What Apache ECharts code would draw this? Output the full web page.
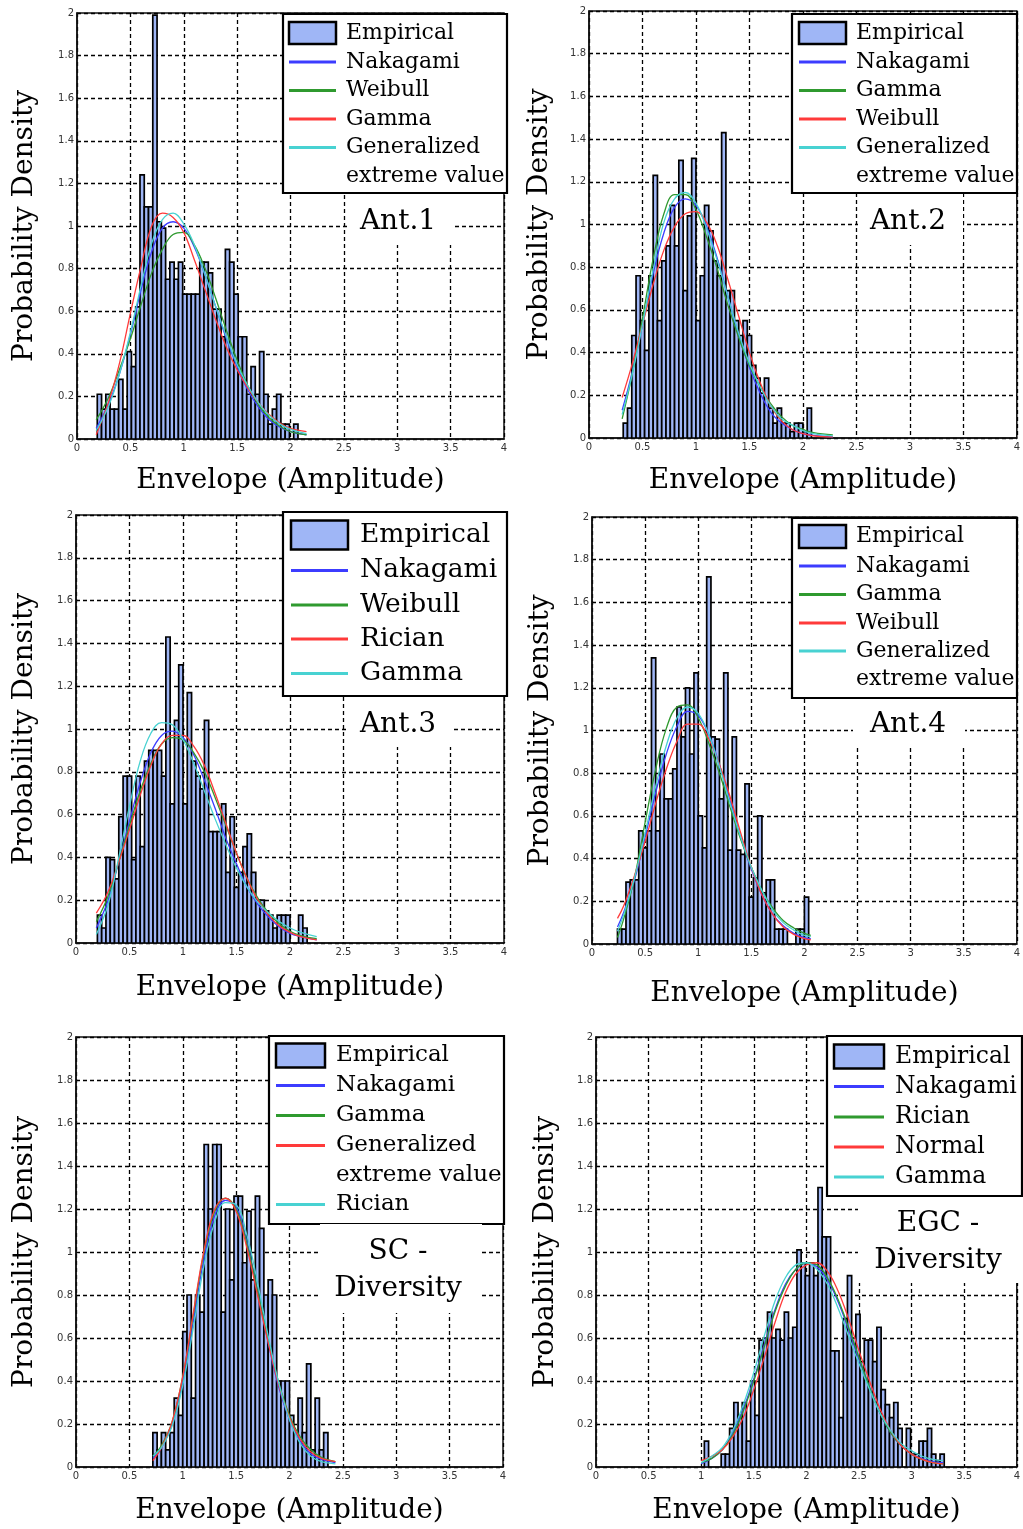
<!DOCTYPE html>
<html>
<head>
<meta charset="utf-8">
<script src="https://cdn.jsdelivr.net/npm/echarts@6/dist/echarts.min.js"></script>
<style>
  html, body { margin: 0; padding: 0; background: #fff; }
  #main { width: 1023px; height: 1529px; }
</style>
</head>
<body>
<div id="main"></div>
<script>
// ---------------------------------------------------------------
// Envelope amplitude histograms (probability density) with fitted PDFs
// ---------------------------------------------------------------
const BIN_WIDTH = 0.04;

// ---- Ant.1 ----
const ant1Start = 0.19;
const ant1Hist = [0.21, 0.14, 0.21, 0.14, 0.14, 0.28, 0.14, 0.41, 0.34, 0.62, 1.24, 1.09, 1.09, 1.99, 1.02, 0.99,
  0.75, 0.83, 0.75, 0.83, 0.68, 0.68, 0.68, 0.68, 0.83, 0.83, 0.78, 0.61, 0.61, 0.48, 0.89, 0.83, 0.68, 0.48,
  0.48, 0.21, 0.34, 0.21, 0.41, 0.21, 0.07, 0.14, 0.21, 0.07, 0.07, 0, 0.07];
const ant1CurveX = [0.18, 0.3, 0.4, 0.5, 0.6, 0.7, 0.8, 0.9, 1.0, 1.1, 1.2, 1.3, 1.4, 1.5, 1.6, 1.7, 1.8, 1.9, 2.0, 2.15];
const ant1Nakagami = [0.05, 0.17, 0.31, 0.49, 0.70, 0.88, 0.99, 1.02, 0.99, 0.90, 0.77, 0.62, 0.47, 0.34, 0.23, 0.15, 0.09, 0.055, 0.035, 0.02];
const ant1Weibull = [0.09, 0.20, 0.33, 0.47, 0.63, 0.78, 0.89, 0.96, 0.97, 0.91, 0.80, 0.66, 0.51, 0.37, 0.25, 0.16, 0.10, 0.06, 0.035, 0.02];
const ant1Gamma = [0.02, 0.18, 0.36, 0.59, 0.81, 1.00, 1.06, 1.04, 0.97, 0.84, 0.70, 0.56, 0.43, 0.325, 0.24, 0.17, 0.115, 0.075, 0.05, 0.035];
const ant1Gev = [0.04, 0.16, 0.31, 0.50, 0.72, 0.92, 1.03, 1.06, 1.01, 0.91, 0.77, 0.62, 0.48, 0.35, 0.25, 0.17, 0.11, 0.07, 0.045, 0.025];
const ant1Legend = ['Empirical', 'Nakagami', 'Weibull', 'Gamma', 'Generalized\nextreme value'];

// ---- Ant.2 ----
const ant2Start = 0.32;
const ant2Hist = [0.07, 0.14, 0.48, 0.76, 0.55, 0.41, 0.76, 1.23, 0.55, 0.83, 0.90, 1.09, 0.90, 1.30, 0.69, 1.04,
  1.31, 0.55, 0.76, 1.09, 0.97, 0.83, 0.76, 1.43, 0.69, 0.69, 0.55, 0.48, 0.55, 0.48, 0.34, 0.28, 0.21, 0.28,
  0.14, 0.07, 0.14, 0.07, 0.07, 0.03, 0.07, 0.07, 0.03, 0.14];
const ant2CurveX = [0.31, 0.4, 0.5, 0.6, 0.7, 0.8, 0.9, 1.0, 1.1, 1.2, 1.3, 1.4, 1.5, 1.6, 1.7, 1.8, 1.9, 2.0, 2.1, 2.28];
const ant2Nakagami = [0.13, 0.30, 0.53, 0.77, 0.96, 1.08, 1.12, 1.09, 0.99, 0.84, 0.66, 0.48, 0.33, 0.21, 0.12, 0.07, 0.04, 0.02, 0.012, 0.005];
const ant2Gamma = [0.09, 0.29, 0.56, 0.84, 1.05, 1.14, 1.14, 1.07, 0.94, 0.79, 0.62, 0.47, 0.34, 0.24, 0.16, 0.10, 0.06, 0.04, 0.025, 0.015];
const ant2Weibull = [0.19, 0.34, 0.53, 0.72, 0.88, 0.99, 1.05, 1.06, 1.01, 0.90, 0.74, 0.57, 0.40, 0.26, 0.15, 0.08, 0.04, 0.02, 0.01, 0.005];
const ant2Gev = [0.11, 0.29, 0.53, 0.79, 1.01, 1.12, 1.15, 1.10, 0.98, 0.83, 0.66, 0.49, 0.35, 0.24, 0.15, 0.09, 0.06, 0.035, 0.02, 0.01];
const ant2Legend = ['Empirical', 'Nakagami', 'Gamma', 'Weibull', 'Generalized\nextreme value'];

// ---- Ant.3 ----
const ant3Start = 0.20;
const ant3Hist = [0.13, 0.07, 0.40, 0.39, 0.30, 0.59, 0.78, 0.78, 0.39, 0.78, 0.45, 0.85, 0.90, 0.90, 0.90, 0.78,
  1.43, 0.65, 1.04, 1.30, 0.65, 1.17, 0.85, 0.78, 0.72, 1.04, 0.52, 0.52, 0.52, 0.65, 0.33, 0.59, 0.26, 0.33,
  0.45, 0.51, 0.33, 0.20, 0.20, 0.15, 0.13, 0.07, 0.13, 0.13, 0.13, 0, 0, 0.13, 0.07];
const ant3CurveX = [0.19, 0.3, 0.4, 0.5, 0.6, 0.7, 0.8, 0.9, 1.0, 1.1, 1.2, 1.3, 1.4, 1.5, 1.6, 1.7, 1.8, 1.9, 2.0, 2.1, 2.25];
const ant3Nakagami = [0.07, 0.20, 0.38, 0.57, 0.75, 0.89, 0.97, 0.99, 0.96, 0.88, 0.76, 0.63, 0.49, 0.37, 0.26, 0.18, 0.12, 0.075, 0.045, 0.03, 0.015];
const ant3Weibull = [0.10, 0.22, 0.38, 0.55, 0.71, 0.84, 0.93, 0.96, 0.95, 0.89, 0.80, 0.68, 0.55, 0.42, 0.30, 0.21, 0.14, 0.09, 0.055, 0.035, 0.02];
const ant3Rician = [0.14, 0.24, 0.38, 0.53, 0.69, 0.83, 0.93, 0.97, 0.97, 0.92, 0.83, 0.70, 0.56, 0.42, 0.30, 0.20, 0.13, 0.08, 0.05, 0.03, 0.015];
const ant3Gamma = [0.04, 0.18, 0.40, 0.64, 0.85, 0.98, 1.03, 1.02, 0.95, 0.84, 0.71, 0.58, 0.46, 0.35, 0.26, 0.19, 0.14, 0.10, 0.07, 0.05, 0.03];
const ant3Legend = ['Empirical', 'Nakagami', 'Weibull', 'Rician', 'Gamma'];

// ---- Ant.4 ----
const ant4Start = 0.24;
const ant4Hist = [0.07, 0.07, 0.29, 0.30, 0.30, 0.53, 0.45, 0.53, 1.34, 0.53, 0.89, 0.68, 0.68, 0.82, 1.11, 0.97,
  1.20, 0.89, 1.27, 0.60, 0.45, 1.72, 0.97, 0.96, 0.68, 1.27, 0.44, 0.97, 0.44, 0.42, 0.75, 0.22, 0.31, 0.60,
  0.24, 0.30, 0.30, 0.07, 0.07, 0.07, 0, 0, 0.07, 0.07, 0.22];
const ant4CurveX = [0.24, 0.3, 0.4, 0.5, 0.6, 0.7, 0.8, 0.9, 1.0, 1.1, 1.2, 1.3, 1.4, 1.5, 1.6, 1.7, 1.8, 1.9, 2.0, 2.06];
const ant4Nakagami = [0.08, 0.15, 0.30, 0.50, 0.71, 0.89, 1.02, 1.09, 1.07, 0.98, 0.84, 0.67, 0.50, 0.35, 0.23, 0.14, 0.085, 0.05, 0.03, 0.025];
const ant4Gamma = [0.03, 0.12, 0.31, 0.57, 0.82, 1.01, 1.11, 1.12, 1.06, 0.94, 0.80, 0.64, 0.49, 0.36, 0.25, 0.17, 0.11, 0.075, 0.05, 0.04];
const ant4Weibull = [0.12, 0.18, 0.32, 0.48, 0.66, 0.82, 0.95, 1.03, 1.03, 0.96, 0.84, 0.69, 0.52, 0.36, 0.23, 0.14, 0.08, 0.045, 0.025, 0.02];
const ant4Gev = [0.06, 0.14, 0.31, 0.52, 0.74, 0.93, 1.06, 1.11, 1.08, 0.98, 0.83, 0.66, 0.50, 0.36, 0.25, 0.16, 0.10, 0.065, 0.04, 0.035];
const ant4Legend = ['Empirical', 'Nakagami', 'Gamma', 'Weibull', 'Generalized\nextreme value'];

// ---- SC - Diversity ----
const scStart = 0.72;
const scHist = [0.16, 0.08, 0.16, 0.08, 0.16, 0.32, 0.24, 0.63, 0.80, 0.32, 0.80, 0.72, 1.50, 1.20, 1.50, 1.50,
  0.72, 1.20, 0.87, 1.26, 1.26, 0.95, 1.19, 0.87, 1.26, 1.11, 0.80, 0.87, 0.80, 0.40, 0.40, 0.40, 0.24, 0.16,
  0.32, 0.16, 0.48, 0.08, 0.32, 0.08, 0.16];
const scCurveX = [0.72, 0.8, 0.9, 1.0, 1.1, 1.2, 1.3, 1.4, 1.5, 1.6, 1.7, 1.8, 1.9, 2.0, 2.1, 2.2, 2.3, 2.43];
const scNakagami = [0.04, 0.09, 0.20, 0.40, 0.68, 0.97, 1.17, 1.24, 1.21, 1.05, 0.82, 0.58, 0.37, 0.22, 0.12, 0.06, 0.035, 0.02];
const scGamma = [0.05, 0.10, 0.21, 0.42, 0.71, 1.00, 1.19, 1.25, 1.20, 1.04, 0.82, 0.59, 0.39, 0.24, 0.14, 0.08, 0.045, 0.025];
const scGev = [0.03, 0.09, 0.21, 0.42, 0.72, 1.01, 1.20, 1.25, 1.19, 1.02, 0.80, 0.58, 0.38, 0.23, 0.13, 0.07, 0.04, 0.025];
const scRician = [0.05, 0.09, 0.19, 0.38, 0.65, 0.94, 1.14, 1.23, 1.22, 1.08, 0.86, 0.61, 0.39, 0.22, 0.11, 0.05, 0.025, 0.015];
const scLegend = ['Empirical', 'Nakagami', 'Gamma', 'Generalized\nextreme value', 'Rician'];

// ---- EGC - Diversity ----
const egcStart = 1.03;
const egcHist = [0.12, 0, 0, 0, 0.06, 0.06, 0.18, 0.30, 0.24, 0.30, 0.12, 0.40, 0.24, 0.59, 0.60, 0.72, 0.60,
  0.64, 0.59, 0.72, 0.60, 0.65, 1.01, 0.95, 0.89, 0.95, 0.89, 1.30, 1.07, 1.07, 0.54, 0.54, 0.23, 0.69, 0.89,
  0.60, 0.71, 0.49, 0.59, 0.59, 0.49, 0.65, 0.36, 0.29, 0.23, 0.30, 0.18, 0, 0.18, 0.06, 0.06, 0.12, 0.12,
  0.18, 0.06, 0.03, 0.06];
const egcCurveX = [1.0, 1.1, 1.2, 1.3, 1.4, 1.5, 1.6, 1.7, 1.8, 1.9, 2.0, 2.1, 2.2, 2.3, 2.4, 2.5, 2.6, 2.7, 2.8, 2.9, 3.0, 3.1, 3.2, 3.3];
const egcNakagami = [0.015, 0.04, 0.08, 0.16, 0.27, 0.41, 0.57, 0.73, 0.85, 0.92, 0.95, 0.93, 0.87, 0.77, 0.64, 0.50, 0.37, 0.25, 0.16, 0.10, 0.06, 0.04, 0.025, 0.02];
const egcRician = [0.02, 0.04, 0.08, 0.15, 0.26, 0.40, 0.56, 0.72, 0.84, 0.92, 0.95, 0.94, 0.88, 0.78, 0.65, 0.51, 0.37, 0.25, 0.16, 0.10, 0.06, 0.035, 0.02, 0.015];
const egcNormal = [0.03, 0.05, 0.08, 0.14, 0.23, 0.36, 0.51, 0.67, 0.81, 0.90, 0.94, 0.95, 0.91, 0.82, 0.69, 0.54, 0.40, 0.27, 0.17, 0.10, 0.06, 0.035, 0.02, 0.015];
const egcGamma = [0.02, 0.05, 0.09, 0.17, 0.29, 0.44, 0.61, 0.77, 0.88, 0.94, 0.95, 0.92, 0.85, 0.74, 0.61, 0.48, 0.36, 0.25, 0.17, 0.11, 0.075, 0.05, 0.035, 0.03];
const egcLegend = ['Empirical', 'Nakagami', 'Rician', 'Normal', 'Gamma'];

// ---------------------------------------------------------------
// Styling
// ---------------------------------------------------------------
const SERIF = '"DejaVu Serif", serif';
const SANS = '"DejaVu Sans", sans-serif';
const BAR_FILL = '#9fb6f6';
const FIT_COLORS = ['#3c3cff', '#2f9a2f', '#ff3a3a', '#48d2d2'];

const panels = [
  { start: ant1Start, hist: ant1Hist, cx: ant1CurveX, fits: [ant1Nakagami, ant1Weibull, ant1Gamma, ant1Gev], names: ant1Legend, tag: 'Ant.1' },
  { start: ant2Start, hist: ant2Hist, cx: ant2CurveX, fits: [ant2Nakagami, ant2Gamma, ant2Weibull, ant2Gev], names: ant2Legend, tag: 'Ant.2' },
  { start: ant3Start, hist: ant3Hist, cx: ant3CurveX, fits: [ant3Nakagami, ant3Weibull, ant3Rician, ant3Gamma], names: ant3Legend, tag: 'Ant.3' },
  { start: ant4Start, hist: ant4Hist, cx: ant4CurveX, fits: [ant4Nakagami, ant4Gamma, ant4Weibull, ant4Gev], names: ant4Legend, tag: 'Ant.4' },
  { start: scStart, hist: scHist, cx: scCurveX, fits: [scNakagami, scGamma, scGev, scRician], names: scLegend, tag: 'SC -\nDiversity' },
  { start: egcStart, hist: egcHist, cx: egcCurveX, fits: [egcNakagami, egcRician, egcNormal, egcGamma], names: egcLegend, tag: 'EGC -\nDiversity' }
];

// Plot placement, legend boxes and panel tags
const layouts = [
  { grid: { left: 77, top: 13, width: 427, height: 426 }, yGap: 38, xGap: 28,
    legend: { x: 283, y: 14, w: 224, h: 179, swX: 289, swW: 47, swH: 22, textX: 346, rows: [33, 62, 90.5, 119, 147.5], lh: 28.5, font: 22 },
    tag: { x: 347, y: 194, w: 106, h: 51, cx: 398, cy: 222, lh: 37 } },
  { grid: { left: 589, top: 11, width: 429, height: 427 }, yGap: 35, xGap: 29,
    legend: { x: 792, y: 14, w: 225, h: 179, swX: 799, swW: 47, swH: 22, textX: 856, rows: [33, 62, 90.5, 119, 147.5], lh: 28.5, font: 22 },
    tag: { x: 858, y: 194, w: 105, h: 51, cx: 908, cy: 222, lh: 37 } },
  { grid: { left: 76, top: 515, width: 428, height: 428 }, yGap: 37, xGap: 31,
    legend: { x: 283, y: 512, w: 224, h: 184, swX: 291, swW: 57, swH: 29, textX: 360, rows: [535, 570.5, 605, 639, 673.5], lh: 34.5, font: 26.5 },
    tag: { x: 347, y: 697, w: 106, h: 50, cx: 398, cy: 725, lh: 37 } },
  { grid: { left: 592, top: 517, width: 426, height: 427 }, yGap: 37, xGap: 36,
    legend: { x: 792, y: 518, w: 225, h: 180, swX: 799, swW: 47, swH: 23, textX: 856, rows: [536.5, 566, 594.5, 623, 651], lh: 28.5, font: 22 },
    tag: { x: 853, y: 699, w: 112, h: 49, cx: 908, cy: 725, lh: 37 } },
  { grid: { left: 76, top: 1037, width: 427, height: 430 }, yGap: 37, xGap: 30,
    legend: { x: 269, y: 1036, w: 235, h: 188, swX: 276, swW: 49, swH: 24, textX: 336, rows: [1055.5, 1085.5, 1115.5, 1145.5, 1204.5], lh: 30, font: 23 },
    tag: { x: 320, y: 1224, w: 162, h: 89, cx: 398, cy: 1270.5, lh: 37 } },
  { grid: { left: 596, top: 1037, width: 426, height: 430 }, yGap: 36, xGap: 30,
    legend: { x: 827, y: 1036, w: 195, h: 160, swX: 834, swW: 50, swH: 24, textX: 895, rows: [1056.5, 1086.5, 1117, 1147, 1177], lh: 30.3, font: 23.5 },
    tag: { x: 858, y: 1197, w: 163, h: 86, cx: 938, cy: 1242, lh: 36.5 } }
];

// Histogram bars drawn through the axis scales
function renderBin(params, api) {
  const h = api.value(2);
  if (!(h > 0)) return null;
  const topLeft = api.coord([api.value(0), h]);
  const botRight = api.coord([api.value(1), 0]);
  return {
    type: 'rect',
    shape: { x: topLeft[0], y: topLeft[1], width: botRight[0] - topLeft[0], height: botRight[1] - topLeft[1] },
    style: { fill: BAR_FILL, stroke: '#000', lineWidth: 1.7 }
  };
}

const grids = [], xAxes = [], yAxes = [], series = [], elements = [];

panels.forEach((p, i) => {
  const L = layouts[i];
  grids.push(Object.assign({ show: true, borderColor: '#111', borderWidth: 1.5, backgroundColor: 'transparent' }, L.grid));

  const splitStyle = { show: true, lineStyle: { color: '#000', type: [4, 3], width: 1.3 } };
  xAxes.push({
    gridIndex: i, type: 'value', min: 0, max: 4, interval: 0.5,
    name: 'Envelope (Amplitude)', nameLocation: 'middle', nameGap: L.xGap,
    nameTextStyle: { fontFamily: SERIF, fontSize: 28, color: '#000' },
    axisLine: { show: true, lineStyle: { color: '#111', width: 1.5 } },
    axisTick: { show: false },
    axisLabel: { fontFamily: SANS, fontSize: 10, color: '#333', margin: 4 },
    splitLine: splitStyle
  });
  yAxes.push({
    gridIndex: i, type: 'value', min: 0, max: 2, interval: 0.2,
    name: 'Probability Density', nameLocation: 'middle', nameGap: L.yGap,
    nameTextStyle: { fontFamily: SERIF, fontSize: 28, color: '#000' },
    axisLine: { show: true, lineStyle: { color: '#111', width: 1.5 } },
    axisTick: { show: false },
    axisLabel: { fontFamily: SANS, fontSize: 10, color: '#333', margin: 3 },
    splitLine: splitStyle
  });

  series.push({
    type: 'custom', name: p.names[0], xAxisIndex: i, yAxisIndex: i,
    renderItem: renderBin, clip: true,
    encode: { x: [0, 1], y: 2 },
    data: p.hist.map((h, k) => [p.start + k * BIN_WIDTH, p.start + (k + 1) * BIN_WIDTH, h]),
    z: 2
  });
  p.fits.forEach((ys, k) => {
    series.push({
      type: 'line', name: p.names[k + 1].replace('\n', ' '), xAxisIndex: i, yAxisIndex: i,
      data: p.cx.map((x, j) => [x, ys[j]]),
      smooth: 0.4, symbol: 'none', clip: true,
      lineStyle: { color: FIT_COLORS[k], width: 1.3 },
      z: 3
    });
  });

  // legend box
  const lg = L.legend;
  elements.push({ type: 'rect', z: 100, shape: { x: lg.x, y: lg.y, width: lg.w, height: lg.h },
    style: { fill: '#fff', stroke: '#000', lineWidth: 2.2 } });
  p.names.forEach((name, k) => {
    const cy = lg.rows[k];
    if (k === 0) {
      elements.push({ type: 'rect', z: 101, shape: { x: lg.swX, y: cy - lg.swH / 2, width: lg.swW, height: lg.swH },
        style: { fill: BAR_FILL, stroke: '#000', lineWidth: 2.5 } });
    } else {
      elements.push({ type: 'line', z: 101, shape: { x1: lg.swX, y1: cy, x2: lg.swX + lg.swW, y2: cy },
        style: { stroke: FIT_COLORS[k - 1], lineWidth: 3 } });
    }
    elements.push({ type: 'text', z: 101,
      style: { text: name, x: lg.textX, y: cy - lg.lh / 2, fill: '#000',
        font: lg.font + 'px ' + SERIF, lineHeight: lg.lh,
        textAlign: 'left', align: 'left', textVerticalAlign: 'top', verticalAlign: 'top' } });
  });

  // panel tag
  const t = L.tag;
  elements.push({ type: 'rect', z: 100, shape: { x: t.x, y: t.y, width: t.w, height: t.h },
    style: { fill: '#fff', lineWidth: 0 } });
  elements.push({ type: 'text', z: 101,
    style: { text: p.tag, x: t.cx, y: t.cy, fill: '#000', font: '28px ' + SERIF, lineHeight: t.lh,
      textAlign: 'center', align: 'center', textVerticalAlign: 'middle', verticalAlign: 'middle' } });
});

const chart = echarts.init(document.getElementById('main'), null, { renderer: 'canvas' });
chart.setOption({
  animation: false,
  backgroundColor: '#fff',
  grid: grids,
  xAxis: xAxes,
  yAxis: yAxes,
  series: series,
  graphic: { elements: elements }
});
</script>
</body>
</html>
